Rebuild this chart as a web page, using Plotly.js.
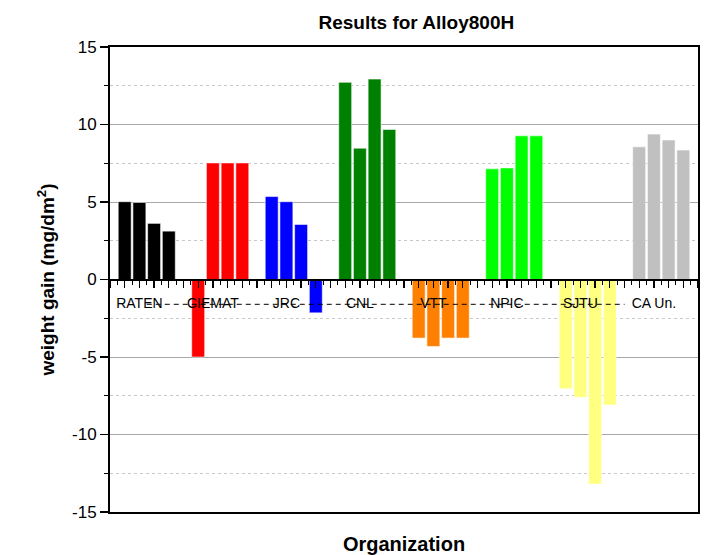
<!DOCTYPE html>
<html>
<head>
<meta charset="utf-8">
<script src="https://cdn.plot.ly/plotly-3.0.1.min.js"></script>
<style>html,body{margin:0;padding:0;background:#fff;}#chart{width:705px;height:555px;}</style>
</head>
<body>
<div id="chart"></div>
<script>
// Organizations (categories)
const organizations = ['RATEN', 'CIEMAT', 'JRC', 'CNL', 'VTT', 'NPIC', 'SJTU', 'CA Un.'];
// weight gain values (mg/dm^2), four samples per organization
const raten  = [5.02, 4.97, 3.62, 3.12];
const ciemat = [-5.0, 7.52, 7.52, 7.52];
const jrc    = [5.35, 5.02, 3.55, -2.15];
const cnl    = [12.72, 8.47, 12.93, 9.68];
const vtt    = [-3.78, -4.32, -3.78, -3.78];
const npic   = [7.14, 7.2, 9.27, 9.27];
const sjtu   = [-7.05, -7.6, -13.2, -8.1];
const caun   = [8.56, 9.38, 9.0, 8.35];
const groupValues = [raten, ciemat, jrc, cnl, vtt, npic, sjtu, caun];
const groupColors = ['#000000', '#ff0000', '#0000ff', '#008000', '#ff8000', '#00ff00', '#ffff80', '#c0c0c0'];
const yTickVals = [-15, -10, -5, 0, 5, 10, 15];

const slotsPerGroup = 5;
const labelOffset = 2;
const labelLevel = -1.6;
const font = 'Liberation Sans, Arial, sans-serif';

const traces = groupValues.map((vals, g) => ({
  type: 'bar',
  name: organizations[g],
  x: vals.map((v, j) => g * slotsPerGroup + j + 1),
  y: vals,
  width: 0.88,
  marker: {color: groupColors[g], line: {color: 'rgba(255,255,255,0.55)', width: 1}}
}));
// dashed guide line running through the organization labels
traces.push({
  type: 'scatter', mode: 'lines', xaxis: 'x2', yaxis: 'y',
  x: organizations.map((n, g) => g === 0 ? slotsPerGroup / 2 : g * slotsPerGroup),
  y: organizations.map(() => labelLevel),
  line: {color: '#000', width: 1, dash: '5px,4px'}, hoverinfo: 'skip'
});
// organization labels
traces.push({
  type: 'scatter', mode: 'text', xaxis: 'x2', yaxis: 'y',
  x: organizations.map((n, g) => g * slotsPerGroup + labelOffset),
  y: organizations.map(() => labelLevel),
  text: organizations, textposition: 'middle center',
  textfont: {family: font, size: 14, color: '#000'}, hoverinfo: 'skip', cliponaxis: false
});

const layout = {
  width: 705, height: 555,
  margin: {l: 110, r: 7, t: 47, b: 43, autoexpand: false},
  paper_bgcolor: '#fff', plot_bgcolor: '#fff',
  showlegend: false,
  font: {family: font, color: '#000'},
  title: {
    text: 'Results for Alloy800H', xref: 'paper', x: 0.521, xanchor: 'center',
    yref: 'container', y: 0.96, yanchor: 'middle',
    font: {family: font, size: 19, color: '#000', weight: 'bold'}
  },
  xaxis: {
    range: [0, 40], anchor: 'free', position: 0.5,
    showline: true, linecolor: '#000', linewidth: 2,
    ticks: 'outside', tick0: 0, dtick: 1, ticklen: 7, tickwidth: 1.3, tickcolor: '#000',
    showticklabels: false, showgrid: false, zeroline: false,
    minor: {dtick: 0.5, ticks: 'outside', ticklen: 4, tickwidth: 1, tickcolor: '#000', showgrid: false}
  },
  xaxis2: {
    range: [0, 40], overlaying: 'x', anchor: 'y', side: 'bottom',
    showline: true, mirror: true, linecolor: '#000', linewidth: 2,
    ticks: '', showticklabels: false, showgrid: false, zeroline: false,
    title: {text: 'Organization', font: {family: font, size: 20, color: '#000', weight: 'bold'}, standoff: 24}
  },
  yaxis: {
    range: [-15, 15], tickvals: yTickVals, ticktext: yTickVals.map(String),
    ticks: 'outside', ticklen: 8, tickwidth: 1.5, tickcolor: '#000',
    showline: true, mirror: true, linecolor: '#000', linewidth: 2,
    showgrid: true, gridcolor: '#a8a8a8', gridwidth: 1, zeroline: false,
    minor: {dtick: 2.5, tick0: 0, ticks: 'outside', ticklen: 4, tickwidth: 1, tickcolor: '#000',
            showgrid: true, gridcolor: '#c8c8c8', gridwidth: 1, griddash: 'dot'},
    tickfont: {family: font, size: 17, color: '#000'},
    title: {text: 'weight gain (mg/dm<sup>2</sup>)', font: {family: font, size: 19, color: '#000', weight: 'bold'}, standoff: 12}
  }
};

Plotly.newPlot('chart', traces, layout, {displayModeBar: false, staticPlot: true});
</script>
</body>
</html>
